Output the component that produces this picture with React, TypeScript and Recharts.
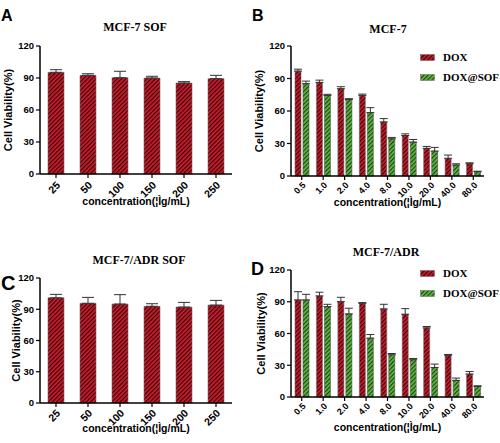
import React from 'react';
import { BarChart, Bar, XAxis, YAxis, ErrorBar, Legend } from 'recharts';

const SANS = '"Liberation Sans", Arial, sans-serif';
const SERIF = '"Liberation Serif", "Times New Roman", serif';

// SOF alone
const sofConc = ['25', '50', '100', '150', '200', '250'];
const mcf7Sof = [95.3, 92.5, 90.3, 90.0, 85.3, 89.4];
const mcf7SofErr = [2.5, 1.5, 6.0, 1.6, 1.3, 3.1];
const adrSof = [101.0, 95.7, 95.0, 92.8, 92.1, 94.0];
const adrSofErr = [3.3, 5.7, 9.0, 2.5, 4.5, 4.5];

// DOX vs DOX@SOF
const doxConc = ['0.5', '1.0', '2.0', '4.0', '8.0', '10.0', '20.0', '40.0', '80.0'];
const mcf7Dox = [96.8, 86.4, 80.6, 74.4, 49.9, 37.4, 25.5, 16.3, 11.3];
const mcf7DoxErr = [1.8, 2.1, 1.8, 1.2, 3.1, 1.5, 1.8, 3.0, 0.9];
const mcf7DoxSof = [85.2, 74.4, 70.5, 58.5, 34.3, 31.3, 23.0, 10.1, 4.0];
const mcf7DoxSofErr = [2.4, 1.0, 0.9, 4.6, 1.3, 2.4, 3.4, 1.2, 0.4];
const adrDox = [91.7, 95.5, 90.1, 88.6, 83.2, 78.2, 65.3, 39.6, 21.7];
const adrDoxErr = [7.8, 3.5, 4.1, 0.6, 4.4, 5.3, 1.3, 0.6, 2.4];
const adrDoxSof = [91.7, 85.4, 78.5, 55.6, 39.9, 35.2, 27.9, 15.7, 10.0];
const adrDoxSofErr = [5.3, 2.2, 5.4, 3.4, 1.2, 1.2, 3.2, 2.2, 0.6];

const seriesNames = ['DOX', 'DOX@SOF'];
const yTicks = [0, 30, 60, 90, 120];
const yLabel = 'Cell Viability(%)';
const xLabel = 'concentration(¦Ìg/mL)';

const sofRows = (vals: number[], errs: number[]) =>
  sofConc.map((c, i) => ({ c, a: vals[i], ae: [0, errs[i]] }));

const doxRows = (a: number[], ae: number[], b: number[], be: number[]) =>
  doxConc.map((c, i) => ({ c, a: a[i], ae: [0, ae[i]], b: b[i], be: [0, be[i]] }));

const SlantTick = (props: any) => {
  const { x, y, payload, dy, size } = props;
  const ax = x + 3;
  const ay = y + dy;
  return (
    <text
      x={ax}
      y={ay}
      transform={`rotate(-45 ${ax} ${ay})`}
      textAnchor="end"
      dominantBaseline="middle"
      fontFamily={SANS}
      fontWeight="bold"
      fontSize={size}
      fill="#000"
    >
      {payload.value}
    </text>
  );
};

const HatchLegend = (props: any) => {
  const items = props.payload || [];
  return (
    <div>
      {items.map((it: any, i: number) => (
        <div key={i} style={{ display: 'flex', alignItems: 'center', height: 20 }}>
          <svg width={15} height={7} style={{ display: 'block' }}>
            <rect x={0.5} y={0.5} width={14} height={6} fill={it.color} stroke="#666" strokeWidth={0.5} />
          </svg>
          <span style={{ marginLeft: 8, fontFamily: SERIF, fontWeight: 'bold', fontSize: 11, color: '#000' }}>
            {it.value}
          </span>
        </div>
      ))}
    </div>
  );
};

type PanelProps = {
  id: string;
  letter: string;
  letterX: number;
  letterY: number;
  letterSize: number;
  title: string;
  titleX: number;
  titleY: number;
  height: number;
  margin: { top: number; right: number; left: number; bottom: number };
  yWidth: number;
  yLabelOffset: number;
  xLabelOffset: number;
  tickDy: number;
  tickSize: number;
  data: any[];
  pair: boolean;
  barSize: number;
  legendTop?: number;
};

const Panel = (p: PanelProps) => {
  const red = `${p.id}-red`;
  const green = `${p.id}-green`;
  const labelStyle = { fill: '#000', fontFamily: SANS, fontWeight: 'bold' as const };
  return (
    <BarChart width={250} height={p.height} data={p.data} margin={p.margin} barSize={p.barSize} barGap={2}>
      <defs>
        <pattern id={red} patternUnits="userSpaceOnUse" width={3} height={3} patternTransform="rotate(45)">
          <rect width={3} height={3} fill="#d41e2e" />
          <rect width={1.3} height={3} fill="#3a060b" />
        </pattern>
        <pattern id={green} patternUnits="userSpaceOnUse" width={3} height={3} patternTransform="rotate(45)">
          <rect width={3} height={3} fill="#62b846" />
          <rect width={1.2} height={3} fill="#1c4510" />
        </pattern>
      </defs>
      <text x={p.letterX} y={p.letterY} fontFamily={SANS} fontWeight="bold" fontSize={p.letterSize} fill="#000">
        {p.letter}
      </text>
      <text x={p.titleX} y={p.titleY} textAnchor="middle" fontFamily={SERIF} fontWeight="bold" fontSize={12} fill="#000">
        {p.title}
      </text>
      <XAxis
        dataKey="c"
        interval={0}
        height={36}
        tickSize={4}
        stroke="#000"
        axisLine={{ stroke: '#000', strokeWidth: 1.5 }}
        tickLine={{ stroke: '#000', strokeWidth: 1.2 }}
        tick={<SlantTick dy={p.tickDy} size={p.tickSize} />}
        label={{ value: xLabel, position: 'insideBottom', offset: p.xLabelOffset, style: { ...labelStyle, fontSize: 10.5 } }}
      />
      <YAxis
        width={p.yWidth}
        domain={[0, 120]}
        ticks={yTicks}
        tickSize={4}
        tickMargin={2}
        stroke="#000"
        axisLine={{ stroke: '#000', strokeWidth: 1.5 }}
        tickLine={{ stroke: '#000', strokeWidth: 1.2 }}
        tick={{ fill: '#000', fontFamily: SANS, fontWeight: 'bold', fontSize: 9.5 }}
        label={{
          value: yLabel,
          angle: -90,
          position: 'insideLeft',
          offset: p.yLabelOffset,
          style: { ...labelStyle, fontSize: 11, textAnchor: 'middle' },
        }}
      />
      {p.pair && (
        <Legend
          layout="vertical"
          align="center"
          verticalAlign="middle"
          content={<HatchLegend />}
          wrapperStyle={{ position: 'absolute', left: 170, top: p.legendTop, width: 80 }}
        />
      )}
      <Bar dataKey="a" name={seriesNames[0]} fill={`url(#${red})`} stroke="#6a6a6a" strokeWidth={0.6} isAnimationActive={false}>
        <ErrorBar dataKey="ae" width={p.pair ? 4 : 6} stroke="#333" strokeWidth={1} direction="y" />
      </Bar>
      {p.pair && (
        <Bar dataKey="b" name={seriesNames[1]} fill={`url(#${green})`} stroke="#4a5a4a" strokeWidth={0.6} isAnimationActive={false}>
          <ErrorBar dataKey="be" width={4} stroke="#333" strokeWidth={1} direction="y" />
        </Bar>
      )}
    </BarChart>
  );
};

export default function App() {
  return (
    <div style={{ position: 'absolute', left: 0, top: 0, width: 500, height: 443, background: '#fff' }}>
      <div style={{ position: 'absolute', left: 0, top: 0 }}>
        <Panel
          id="a" letter="A" letterX={1} letterY={21} letterSize={16}
          title="MCF-7 SOF" titleX={135} titleY={30.5}
          height={220} margin={{ top: 46, right: 18, left: 0, bottom: 10 }} yWidth={40}
          yLabelOffset={8.5} xLabelOffset={5} tickDy={4} tickSize={10.5}
          data={sofRows(mcf7Sof, mcf7SofErr)} pair={false} barSize={16}
        />
      </div>
      <div style={{ position: 'absolute', left: 250, top: 0 }}>
        <Panel
          id="b" letter="B" letterX={2} letterY={21} letterSize={16}
          title="MCF-7" titleX={138} titleY={32.5}
          height={220} margin={{ top: 46, right: 16, left: 0, bottom: 8 }} yWidth={41}
          yLabelOffset={9.5} xLabelOffset={6} tickDy={2} tickSize={9}
          data={doxRows(mcf7Dox, mcf7DoxErr, mcf7DoxSof, mcf7DoxSofErr)} pair={true} barSize={6} legendTop={47}
        />
      </div>
      <div style={{ position: 'absolute', left: 0, top: 220 }}>
        <Panel
          id="c" letter="C" letterX={1} letterY={70} letterSize={20}
          title="MCF-7/ADR SOF" titleX={139} titleY={43.5}
          height={223} margin={{ top: 58, right: 18, left: 0, bottom: 4 }} yWidth={40}
          yLabelOffset={16.5} xLabelOffset={7} tickDy={3} tickSize={10.5}
          data={sofRows(adrSof, adrSofErr)} pair={false} barSize={16}
        />
      </div>
      <div style={{ position: 'absolute', left: 250, top: 220 }}>
        <Panel
          id="d" letter="D" letterX={1} letterY={55} letterSize={18}
          title="MCF-7/ADR" titleX={136} titleY={36}
          height={223} margin={{ top: 50, right: 16, left: 0, bottom: 10 }} yWidth={41}
          yLabelOffset={11.5} xLabelOffset={2} tickDy={2} tickSize={9}
          data={doxRows(adrDox, adrDoxErr, adrDoxSof, adrDoxSofErr)} pair={true} barSize={6} legendTop={43}
        />
      </div>
    </div>
  );
}
